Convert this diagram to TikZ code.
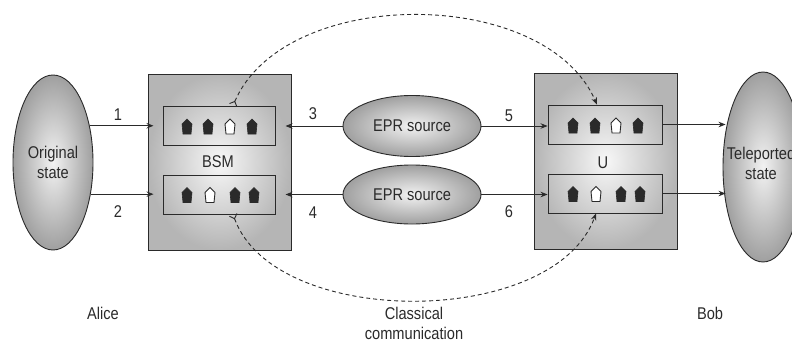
\documentclass[tikz,border=0pt]{standalone}
\usepackage{fontspec}
\setmainfont{Liberation Sans}[FakeStretch=0.86]
\usetikzlibrary{arrows.meta,shapes.geometric}
\definecolor{ln}{HTML}{2A2A2A}
\begin{document}
\begin{tikzpicture}[x=1pt,y=-1pt,
  font=\fontsize{17}{20}\selectfont,
  ell/.style={ellipse, draw=ln, line width=0.9pt, shade, inner color=gray!10, outer color=gray!75, align=center, inner sep=0pt, text=ln},
  outerbox/.style={rectangle, draw=ln, line width=1pt, shade, inner color=gray!6, outer color=gray!58, minimum width=143pt, minimum height=176pt, inner sep=0pt},
  innerbox/.style={rectangle, draw=ln, line width=0.9pt, minimum height=39pt, inner sep=0pt},
  arr/.style={draw=ln, line width=0.8pt, -{Stealth[length=7pt,width=5.5pt]}},
  cc/.style={draw=ln, line width=0.9pt, dash pattern=on 4pt off 3pt, {Straight Barb[reversed,length=4pt,width=8pt]}-{Stealth[length=7pt,width=5.5pt]}},
  lbl/.style={text=ln, inner sep=0pt},
  pent/.pic={\path[pic actions] (0,-7.5) -- (5,-2.5) -- (4,7.5) -- (-4,7.5) -- (-5,-2.5) -- cycle;},
  pf/.style={fill=ln, draw=ln, line width=0.6pt},
  po/.style={fill=white, draw=ln, line width=0.9pt}
]
\useasboundingbox (0,0) rectangle (792,351);

% outer boxes
\node[outerbox] (bsm) at (219.5,162) {};
\node[outerbox] (ubox) at (605.5,161) {};
\node[innerbox, minimum width=112pt] (bsmtop) at (219,125.5) {};
\node[innerbox, minimum width=112pt] (bsmbot) at (219,194.5) {};
\node[innerbox, minimum width=114pt] (utop) at (605,124.5) {};
\node[innerbox, minimum width=114pt] (ubot) at (605,193.5) {};
\node[lbl] (bsmlbl) at (218,162) {BSM};
\node[lbl] (ulbl) at (603,163) {U};

% pentagons
\pic[pf] at (187,126.5) {pent};
\pic[pf] at (208,126.5) {pent};
\pic[po] at (230,126.5) {pent};
\pic[pf] at (252,126.5) {pent};
\pic[pf] at (187,195) {pent};
\pic[po] at (210,195) {pent};
\pic[pf] at (235,195) {pent};
\pic[pf] at (254,195) {pent};
\pic[pf] at (573,125.5) {pent};
\pic[pf] at (595,125.5) {pent};
\pic[po] at (616,125.5) {pent};
\pic[pf] at (638,125.5) {pent};
\pic[pf] at (573,194) {pent};
\pic[po] at (596,194) {pent};
\pic[pf] at (621,194) {pent};
\pic[pf] at (640,194) {pent};

% ellipses
\node[ell, minimum width=80pt, minimum height=175pt] (orig) at (53,162.5) {Original\\state};
\node[ell, minimum width=80pt, minimum height=190pt] (tele) at (763,167) {};
\node[lbl, align=center] (teletxt) at (761,163) {Teleported\\state};
\node[ell, minimum width=138pt, minimum height=61pt] (epr1) at (412,126) {EPR source};
\node[ell, minimum width=138pt, minimum height=59pt] (epr2) at (412,194.5) {EPR source};

% arrows
\draw[arr] (orig.45) -- ([xshift=6pt]orig.45 -| bsm.west);
\draw[arr] (orig.-40) -- ([xshift=6pt]orig.-40 -| bsm.west);
\draw[arr] (epr1.west) -- ([xshift=-6pt]epr1.west -| bsm.east);
\draw[arr] (epr2.west) -- ([xshift=-6pt]epr2.west -| bsm.east);
\draw[arr] (epr1.east) -- (epr1.east -| utop.west);
\draw[arr] (epr2.east) -- (epr2.east -| ubot.west);
\draw[arr] (utop.east) -- ([xshift=3pt]utop.east -| tele.west);
\draw[arr] (ubot.east) -- ([xshift=3pt]ubot.east -| tele.west);

% classical communication
\draw[cc] ([xshift=14pt]bsmtop.north) .. controls +(52,-120) and +(-52,-119) .. ([xshift=-8pt]utop.north);
\draw[cc] ([xshift=14pt]bsmbot.south) .. controls +(42,115) and +(-42,115) .. ([xshift=-9pt]ubot.south);

% labels
\node[lbl] (l1) at (118,115) {1};
\node[lbl] (l2) at (118,212) {2};
\node[lbl] (l3) at (313,114) {3};
\node[lbl] (l4) at (313,213) {4};
\node[lbl] (l5) at (509,116) {5};
\node[lbl] (l6) at (509,212) {6};
\node[lbl] (alice) at (103,313) {Alice};
\node[lbl, align=center] (classical) at (414,323) {Classical\\communication};
\node[lbl] (bob) at (710,313) {Bob};
\end{tikzpicture}
\end{document}
